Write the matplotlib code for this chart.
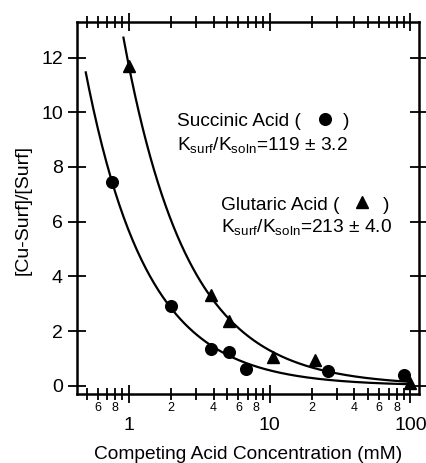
import numpy as np
import matplotlib
matplotlib.use("Agg")
import matplotlib.pyplot as plt

plt.rcParams['font.family'] = ['Liberation Sans', 'DejaVu Sans']
plt.rcParams['mathtext.default'] = 'regular'

# data
succinic_x = [0.76, 1.98, 3.83, 5.12, 6.8, 26.2, 90.6]
succinic_y = [7.45, 2.91, 1.33, 1.24, 0.61, 0.54, 0.41]
glutaric_x = [1.0, 3.83, 5.12, 10.5, 21.1, 100.0]
glutaric_y = [11.7, 3.31, 2.36, 1.04, 0.94, 0.12]

# x range covered by each fit line
succinic_fit_range = (0.494, 100.0)
glutaric_fit_range = (0.915, 100.0)

major_ticks = [1, 10, 100]
minor_ticks = [0.5, 0.6, 0.7, 0.8, 0.9, 2, 3, 4, 5, 6, 7, 8, 9,
               20, 30, 40, 50, 60, 70, 80, 90]
minor_labels = {0.6: '6', 0.8: '8', 2: '2', 4: '4', 6: '6', 8: '8',
                20: '2', 40: '4', 60: '6', 80: '8'}


def fit_power(x, y, lo, hi):
    # least squares fit of y = a * x**b over a grid of exponents
    x = np.asarray(x)
    y = np.asarray(y)
    best = None
    for b in np.linspace(-2.0, -0.5, 301):
        basis = x ** b
        a = np.dot(basis, y) / np.dot(basis, basis)
        err = np.sum((a * basis - y) ** 2)
        if best is None or err < best[0]:
            best = (err, a, b)
    xs = np.logspace(np.log10(lo), np.log10(hi), 300)
    return xs, best[1] * xs ** best[2]


fig = plt.figure(figsize=(4.27, 4.63), dpi=100)
ax = fig.add_axes([0.180, 0.149, 0.801, 0.8035])

for x, y, rng, marker, ms in [
        (succinic_x, succinic_y, succinic_fit_range, 'o', 8.4),
        (glutaric_x, glutaric_y, glutaric_fit_range, '^', 9)]:
    xs, ys = fit_power(x, y, *rng)
    ax.plot(xs, ys, color='black', lw=1.6)
    ax.plot(x, y, marker, color='black', ms=ms, linestyle='none')

ax.set_xscale('log')
ax.set_xlim(0.427, 115)
ax.set_ylim(-0.3, 13.3)

ax.set_xticks(major_ticks)
ax.set_xticklabels([str(t) for t in major_ticks], fontsize=14)
ax.set_xticks(minor_ticks, minor=True)
ax.set_xticklabels([minor_labels.get(t, '') for t in minor_ticks],
                   minor=True, fontsize=9)
ax.set_yticks(range(0, 13, 2))
ax.tick_params(axis='y', labelsize=14)

ax.tick_params(which='major', direction='inout', length=13, width=1.3,
               top=True, right=True)
ax.tick_params(which='minor', direction='inout', length=8, width=1.3,
               top=True, right=True)
ax.tick_params(axis='x', which='minor', pad=2)
ax.tick_params(axis='x', which='major', pad=10)
for s in ax.spines.values():
    s.set_linewidth(1.8)

ax.set_xlabel('Competing Acid Concentration (mM)', fontsize=13.8,
              va='baseline')
ax.xaxis.set_label_coords(0.581, 0.009, transform=fig.transFigure)
ax.set_ylabel('[Cu-Surf]/[Surf]', fontsize=14)
ax.yaxis.set_label_coords(-0.132, 0.495)

# annotation text with legend glyphs
fs = 13.8
ax.text(2.2, 9.65, 'Succinic Acid (', fontsize=fs, va='center')
ax.plot([24.8], [9.75], 'o', color='black', ms=8.4, clip_on=False)
ax.text(33.4, 9.65, ')', fontsize=fs, va='center')
ax.text(2.2, 8.79, r'K$_{surf}$/K$_{soln}$=119 $\pm$ 3.2', fontsize=fs,
        va='center')
ax.text(4.52, 6.60, 'Glutaric Acid (', fontsize=fs, va='center')
ax.plot([45.3], [6.72], '^', color='black', ms=9, clip_on=False)
ax.text(63.9, 6.60, ')', fontsize=fs, va='center')
ax.text(4.52, 5.80, r'K$_{surf}$/K$_{soln}$=213 $\pm$ 4.0', fontsize=fs,
        va='center')

plt.savefig('out.png', dpi=100)
